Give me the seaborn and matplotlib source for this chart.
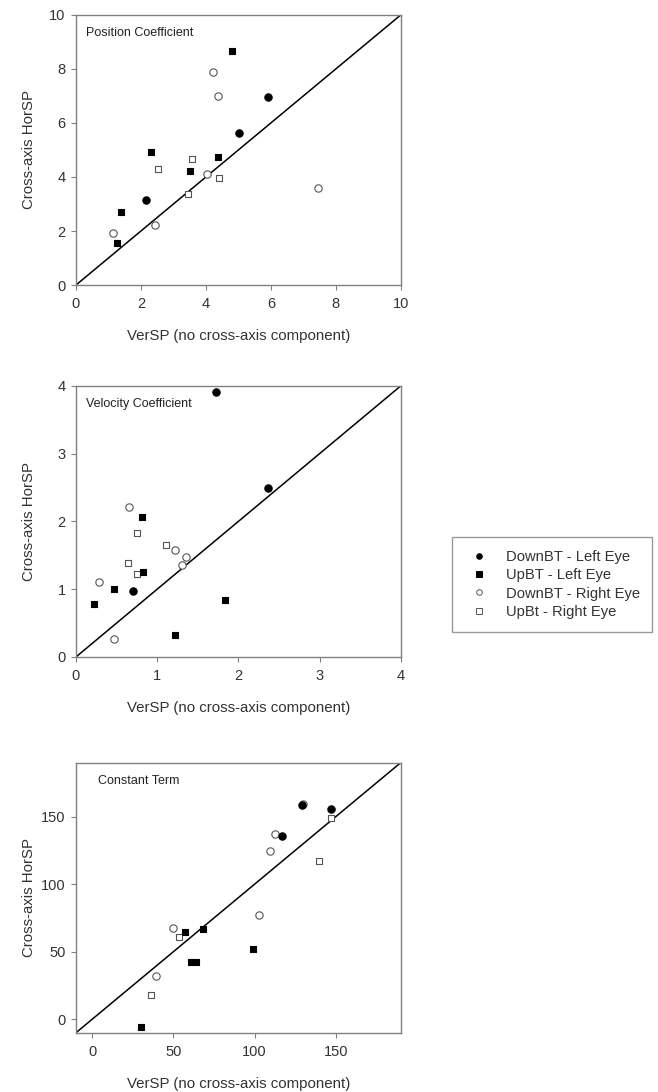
import matplotlib
matplotlib.use("Agg")
import matplotlib.pyplot as plt
from matplotlib.lines import Line2D
import pandas as pd
import seaborn as sns

sns.set_theme(style="white")
plt.rcParams['font.family'] = ['Liberation Sans', 'DejaVu Sans']

# group names (legend order)
groups = ["DownBT - Left Eye", "UpBT - Left Eye", "DownBT - Right Eye", "UpBt - Right Eye"]

# panel 1 - position coefficient
pos_dl_x = [2.16, 5.01, 5.91]
pos_dl_y = [3.14, 5.63, 6.98]
pos_ul_x = [1.26, 1.39, 2.30, 3.50, 4.37, 4.79]
pos_ul_y = [1.56, 2.69, 4.93, 4.23, 4.73, 8.68]
pos_dr_x = [1.14, 2.44, 4.03, 4.22, 4.37, 7.44]
pos_dr_y = [1.94, 2.21, 4.10, 7.89, 7.01, 3.60]
pos_ur_x = [2.52, 3.45, 3.57, 4.39]
pos_ur_y = [4.30, 3.38, 4.68, 3.95]

# panel 2 - velocity coefficient
vel_dl_x = [0.70, 1.72, 2.37]
vel_dl_y = [0.97, 3.91, 2.49]
vel_ul_x = [0.22, 0.47, 0.81, 0.83, 1.22, 1.83]
vel_ul_y = [0.78, 1.01, 2.07, 1.26, 0.33, 0.84]
vel_dr_x = [0.28, 0.47, 0.65, 1.22, 1.30, 1.35]
vel_dr_y = [1.10, 0.27, 2.22, 1.58, 1.36, 1.48]
vel_ur_x = [0.64, 0.75, 0.75, 1.11]
vel_ur_y = [1.39, 1.83, 1.23, 1.65]

# panel 3 - constant term
con_dl_x = [116.9, 129.2, 146.8]
con_dl_y = [135.8, 158.3, 156.0]
con_ul_x = [29.9, 57.2, 60.9, 64.2, 68.1, 98.8]
con_ul_y = [-5.9, 64.9, 42.0, 42.0, 66.9, 51.9]
con_dr_x = [39.0, 49.8, 102.9, 109.7, 112.8, 130.0]
con_dr_y = [31.9, 67.9, 77.0, 124.9, 137.0, 159.5]
con_ur_x = [35.9, 53.7, 139.6, 147.2]
con_ur_y = [18.0, 60.7, 117.0, 149.1]

panel_titles = ["Position Coefficient", "Velocity Coefficient", "Constant Term"]
panel_limits = [(0, 10), (0, 4), (-10, 190)]
panel_ticks = [[0, 2, 4, 6, 8, 10], [0, 1, 2, 3, 4], [0, 50, 100, 150]]

panel_data = [
    [(pos_dl_x, pos_dl_y), (pos_ul_x, pos_ul_y), (pos_dr_x, pos_dr_y), (pos_ur_x, pos_ur_y)],
    [(vel_dl_x, vel_dl_y), (vel_ul_x, vel_ul_y), (vel_dr_x, vel_dr_y), (vel_ur_x, vel_ur_y)],
    [(con_dl_x, con_dl_y), (con_ul_x, con_ul_y), (con_dr_x, con_dr_y), (con_ur_x, con_ur_y)],
]

# marker styles for each group
styles = {
    "DownBT - Left Eye": dict(marker="o", facecolor="black", edgecolor="black", s=28),
    "UpBT - Left Eye": dict(marker="s", facecolor="black", edgecolor="black", s=24),
    "DownBT - Right Eye": dict(marker="o", facecolor="white", edgecolor="#555555", s=28),
    "UpBt - Right Eye": dict(marker="s", facecolor="white", edgecolor="#555555", s=24),
}
draw_order = [2, 3, 0, 1]

fig = plt.figure(figsize=(6.58, 10.92), dpi=100)
positions = [
    [0.1155, 0.739, 0.4935, 0.2473],
    [0.1155, 0.3984, 0.4935, 0.2482],
    [0.1155, 0.0543, 0.4935, 0.2473],
]
title_x = [0.031, 0.031, 0.067]

for i in range(3):
    ax = fig.add_axes(positions[i])
    lo, hi = panel_limits[i]
    rows = []
    for g, (xs, ys) in zip(groups, panel_data[i]):
        for x, y in zip(xs, ys):
            rows.append({"group": g, "x": x, "y": y})
    df = pd.DataFrame(rows)

    ax.plot([lo, hi], [lo, hi], color="black", lw=1.1, zorder=1)
    for k in draw_order:
        g = groups[k]
        st = styles[g]
        sns.scatterplot(data=df[df["group"] == g], x="x", y="y", ax=ax,
                        marker=st["marker"], s=st["s"], facecolor=st["facecolor"],
                        edgecolor=st["edgecolor"], linewidth=0.8, zorder=3, legend=False)

    ax.set_xlim(lo, hi)
    ax.set_ylim(lo, hi)
    ax.set_xticks(panel_ticks[i])
    ax.set_yticks(panel_ticks[i])
    for sp in ax.spines.values():
        sp.set_color("#808080")
        sp.set_linewidth(1.0)
    ax.tick_params(axis="both", which="major", direction="out", length=3.5, width=0.8,
                   color="#808080", labelsize=10.5, labelcolor="#333333", left=True, bottom=True)
    ax.tick_params(axis="x", pad=5)
    ax.tick_params(axis="y", pad=4)
    ax.set_xlabel("VerSP (no cross-axis component)", fontsize=10.8, color="#333333", va="center")
    ax.set_ylabel("Cross-axis HorSP", fontsize=10.8, color="#333333", va="center")
    ax.xaxis.set_label_coords(0.5, -0.19)
    ax.yaxis.set_label_coords(-0.145, 0.5)
    ax.text(title_x[i], 0.932, panel_titles[i], transform=ax.transAxes, fontsize=9,
            color="#222222", ha="left", va="center")

handles = []
for g in groups:
    st = styles[g]
    handles.append(Line2D([], [], linestyle="none", marker=st["marker"], markersize=4,
                          markerfacecolor=st["facecolor"], markeredgecolor=st["edgecolor"],
                          markeredgewidth=0.7, label=g))
leg = fig.legend(handles=handles, loc="upper left", bbox_to_anchor=(0.687, 0.508),
                 frameon=True, fancybox=False, fontsize=10.6, handlelength=1.9,
                 handletextpad=0.9, borderpad=0.85, labelspacing=0.3, borderaxespad=0)
leg.get_frame().set_edgecolor("#808080")
leg.get_frame().set_linewidth(1.0)
for t in leg.get_texts():
    t.set_color("#333333")

fig.savefig("out.png", dpi=100)
